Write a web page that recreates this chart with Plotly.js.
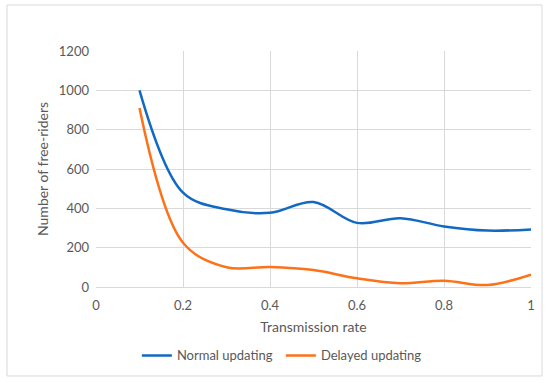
<!DOCTYPE html>
<html>
<head>
<meta charset="utf-8">
<script src="https://cdn.plot.ly/plotly-3.0.1.min.js"></script>
<style>
  body { margin: 0; background: #fff; }
  #chart { width: 550px; height: 383px; }
</style>
</head>
<body>
<div id="chart"></div>
<script>
// Transmission rate values
const rates = [0.1, 0.2, 0.3, 0.4, 0.5, 0.6, 0.7, 0.8, 0.9, 1.0];

// Number of free-riders
const normalUpdating = [1000, 480, 395, 377, 432, 326, 350, 308, 287, 293];
const delayedUpdating = [910, 225, 100, 102, 86, 44, 19, 32, 10, 63];

const xTicks = [0, 0.2, 0.4, 0.6, 0.8, 1];
const yTicks = [0, 200, 400, 600, 800, 1000, 1200];

const textColor = '#595959';
const gridColor = '#d9d9d9';

const data = [
    {
        x: rates,
        y: normalUpdating,
        name: 'Normal updating',
        type: 'scatter',
        mode: 'lines',
        line: { color: '#1269c4', width: 2.5, shape: 'spline', smoothing: 1 }
    },
    {
        x: rates,
        y: delayedUpdating,
        name: 'Delayed updating',
        type: 'scatter',
        mode: 'lines',
        line: { color: '#fd7119', width: 2.5, shape: 'spline', smoothing: 1 }
    }
];

const layout = {
    width: 550,
    height: 383,
    margin: { l: 96, r: 19, t: 51, b: 96 },
    paper_bgcolor: '#fff',
    plot_bgcolor: '#fff',
    font: { family: 'Lato, "Open Sans", sans-serif', size: 13, color: textColor },
    showlegend: true,
    legend: {
        orientation: 'h',
        x: 0.425,
        xanchor: 'center',
        y: -0.29,
        yanchor: 'middle',
        font: { size: 13, color: textColor },
        itemwidth: 30,
        entrywidth: 99,
        traceorder: 'normal'
    },
    xaxis: {
        range: [0, 1],
        tickvals: xTicks,
        ticktext: xTicks.map(String),
        showgrid: true,
        gridcolor: gridColor,
        gridwidth: 1,
        zeroline: false,
        showline: true,
        linecolor: gridColor,
        linewidth: 1,
        ticks: '',
        ticklabelstandoff: 6,
        tickfont: { size: 13, color: textColor },
        title: { text: 'Transmission rate', font: { size: 14, color: textColor }, standoff: 10 }
    },
    yaxis: {
        range: [0, 1200],
        tickvals: yTicks,
        showgrid: true,
        gridcolor: gridColor,
        gridwidth: 1,
        zeroline: false,
        showline: false,
        ticks: '',
        ticklabelstandoff: 6,
        tickfont: { size: 13, color: textColor },
        title: { text: 'Number of free-riders', font: { size: 14, color: textColor }, standoff: 6 }
    },
    shapes: [
        // outer chart border
        {
            type: 'rect',
            xref: 'paper', yref: 'paper',
            x0: -0.2046, x1: 1.0253,
            y0: -0.377, y1: 1.195,
            line: { color: '#d9d9d9', width: 1 },
            fillcolor: 'rgba(0,0,0,0)',
            layer: 'below'
        }
    ]
};

Plotly.newPlot('chart', data, layout, { displayModeBar: false, staticPlot: true });
</script>
</body>
</html>
